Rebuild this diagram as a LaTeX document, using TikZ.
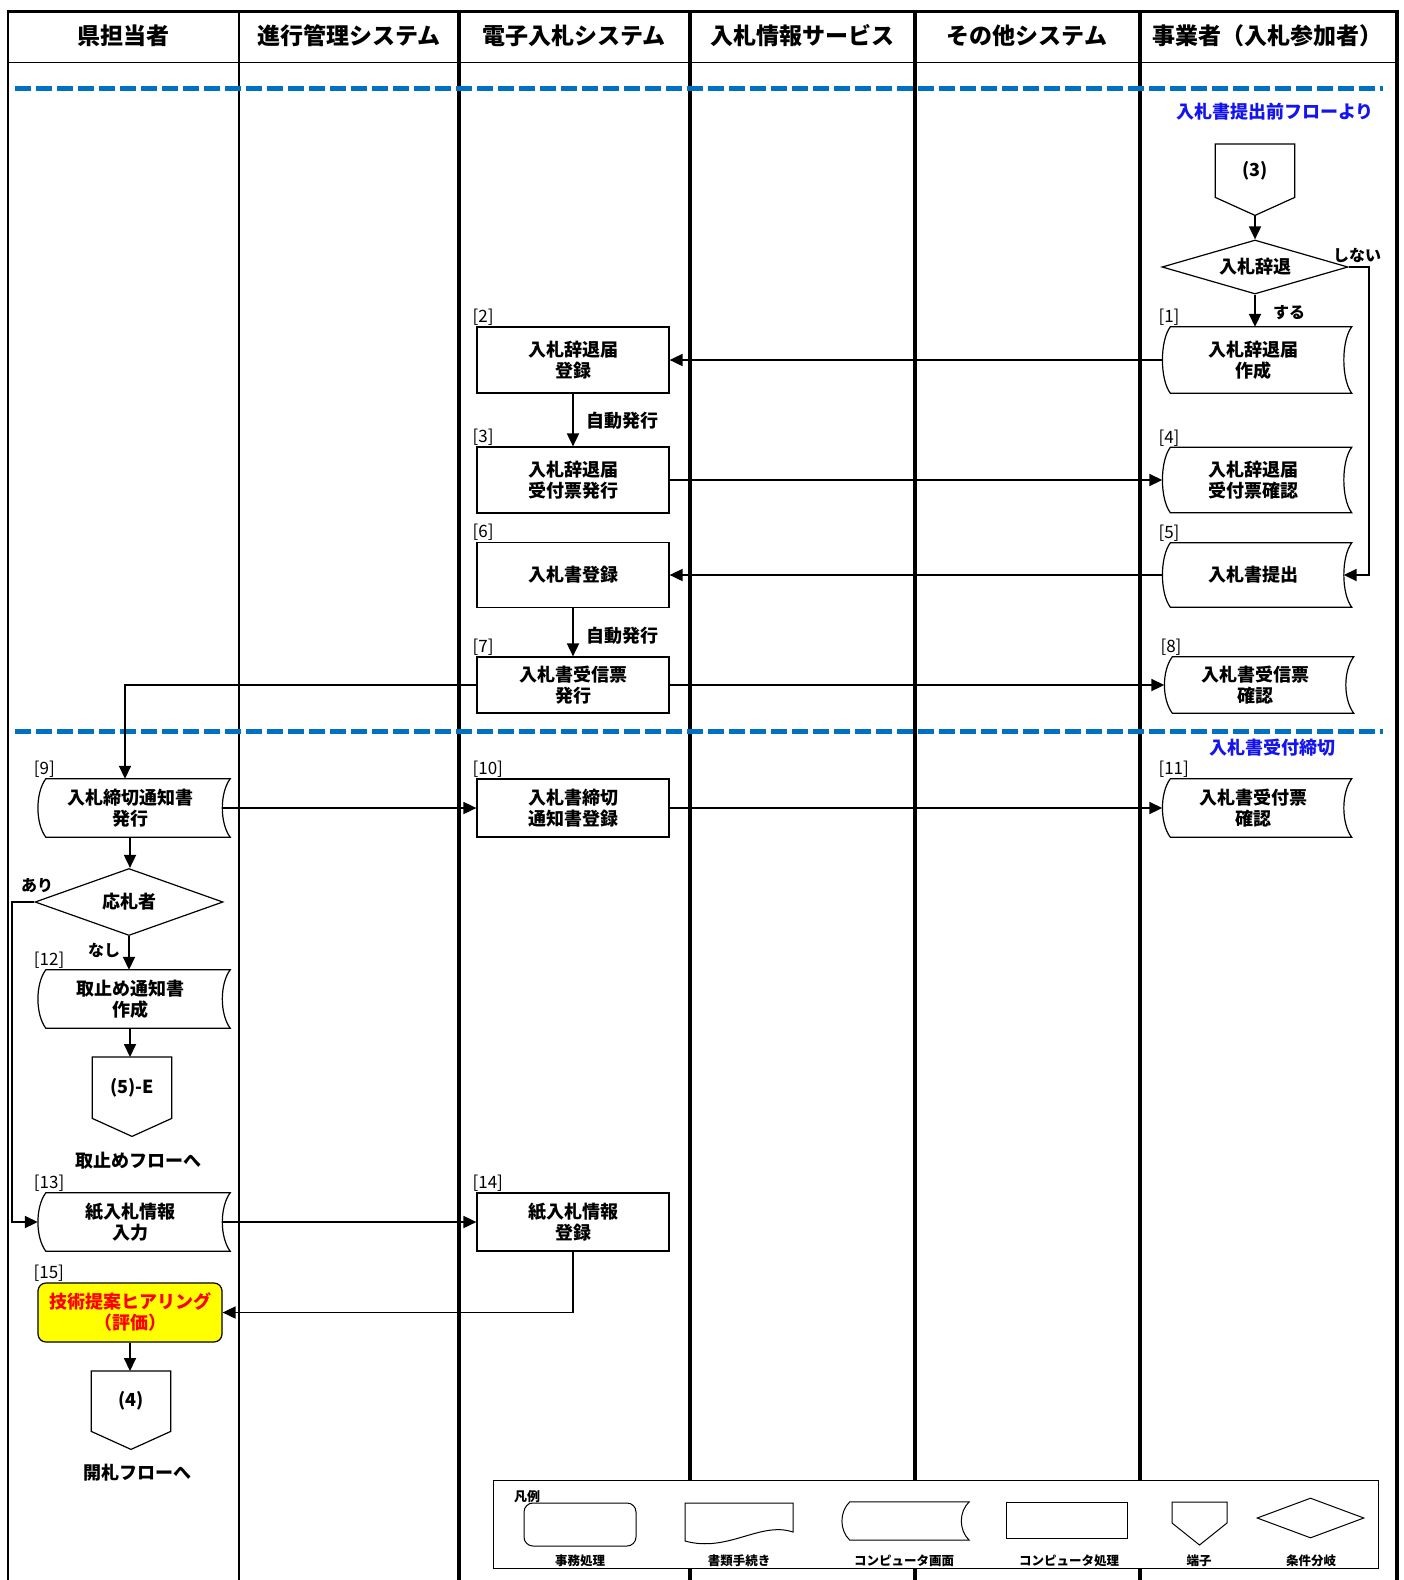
\documentclass[tikz,border=0pt]{standalone}
\usepackage{fontspec}
\setmainfont{Noto Sans CJK JP}
\usetikzlibrary{arrows.meta,positioning,shapes.geometric,calc}
\definecolor{cutblue}{HTML}{0070C0}
\definecolor{noteblue}{HTML}{1414F0}
\definecolor{hlyellow}{HTML}{FFFF00}
\definecolor{hlred}{HTML}{FF0000}
\tikzset{
  lane/.style={line width=#1},
  lane/.default=3.5pt,
  header/.style={font=\fontsize{23}{26}\selectfont\bfseries, inner sep=0pt},
  cutline/.style={draw=cutblue, line width=5pt, dash pattern=on 16pt off 5pt},
  procbox/.style={rectangle, draw, line width=1.2pt, minimum width=192pt,
    minimum height=#1, align=center, inner sep=0pt,
    font=\fontsize{18}{21}\selectfont\bfseries},
  procbox/.default=66pt,
  screenbox/.style={rectangle, minimum width=181pt, minimum height=#1,
    align=center, inner sep=0pt, font=\fontsize{18}{21}\selectfont\bfseries},
  screenbox/.default=66pt,
  termbox/.style={rectangle, minimum width=79pt, minimum height=#1,
    anchor=north, inner sep=0pt, font=\fontsize{18}{21}\selectfont\bfseries},
  termbox/.default=54pt,
  condbox/.style={diamond, draw, line width=1.2pt, aspect=3, inner sep=0pt,
    font=\fontsize{18}{21}\selectfont\bfseries},
  tag/.style={anchor=south west, inner sep=0pt, font=\fontsize{17}{17}\selectfont},
  note/.style={inner sep=0pt, font=\fontsize{18}{21}\selectfont\bfseries},
  branch/.style={inner sep=0pt, font=\fontsize{16}{18}\selectfont\bfseries},
  legtext/.style={inner sep=0pt, font=\fontsize{12.5}{14}\selectfont\bfseries},
  shapeline/.style={line width=1.2pt},
  flow/.style={-{Triangle[length=13pt,width=12pt]}, line width=1.8pt},
}
\begin{document}
\begin{tikzpicture}[x=1pt, y=-1pt]
\useasboundingbox (0,0) rectangle (1404,1580);

% swim lanes
\draw[lane=3pt] (7,11) -- (1398,11);
\draw[lane=1pt] (8,62) -- (1397,62);
\draw[lane=2pt] (8,10) -- (8,1580);
\foreach \x/\w in {239/2.5pt,459/3.5pt,690/3.5pt,915/3.5pt,1140/3.5pt,1397/3.5pt}
  \draw[lane=\w] (\x,10) -- (\x,1580);
\foreach \x/\t [count=\i] in {123/県担当者,349/進行管理システム,574/電子入札システム,
    802/入札情報サービス,1027/その他システム,1267/事業者（入札参加者）}
  \node[header] (head\i) at (\x,36) {\t};

% cut-off lines
\draw[cutline] (15,88) -- (1383,88);
\draw[cutline] (15,731) -- (1383,731);
\node[note, text=noteblue] (fromprev) at (1275,112) {入札書提出前フローより};
\node[note, text=noteblue] (deadline) at (1272,748) {入札書受付締切};

% bidder / e-bidding steps
\node[termbox=53pt] (t3) at (1255,144) {(3)};
\node[condbox, minimum width=186pt, minimum height=54pt] (d1) at (1255,267) {入札辞退};
\node[screenbox] (n1) at (1253,360) {入札辞退届\\作成};
\node[procbox] (n2) at (573,360) {入札辞退届\\登録};
\node[procbox] (n3) at (573,480) {入札辞退届\\受付票発行};
\node[screenbox=65pt] (n4) at (1253,480) {入札辞退届\\受付票確認};
\node[procbox=65pt] (n6) at (573,575) {入札書登録};
\node[screenbox=64pt] (n5) at (1253,575) {入札書提出};
\node[procbox=56pt] (n7) at (573,685) {入札書受信票\\発行};
\node[screenbox=56pt] (n8) at (1255,685) {入札書受信票\\確認};

% after deadline
\node[screenbox=58pt, minimum width=184pt] (n9) at (130,808) {入札締切通知書\\発行};
\node[procbox=58pt] (n10) at (573,808) {入札書締切\\通知書登録};
\node[screenbox=58pt] (n11) at (1253,808) {入札書受付票\\確認};
\node[condbox, minimum width=188pt, minimum height=67pt] (d2) at (129,902) {応札者};
\node[screenbox=58pt, minimum width=184pt] (n12) at (130,999) {取止め通知書\\作成};
\node[termbox=61pt] (t5) at (132,1057) {(5)-E};
\node[note] (tostop) at (138,1161) {取止めフローへ};
\node[screenbox=58pt, minimum width=184pt] (n13) at (130,1222) {紙入札情報\\入力};
\node[procbox=58pt] (n14) at (573,1222) {紙入札情報\\登録};
\node[procbox=59pt, minimum width=184pt, rounded corners=8pt, fill=hlyellow,
  text=hlred] (n15) at (130,1312.5) {技術提案ヒアリング\\（評価）};
\node[termbox=60pt] (t4) at (131,1371) {(4)};
\node[note] (toopen) at (137,1473) {開札フローへ};

% step numbers
\foreach \n/\t in {n1/1,n2/2,n3/3,n4/4,n5/5,n6/6,n7/7,n8/8,n9/9,n10/10,
    n11/11,n12/12,n13/13,n14/14,n15/15}
  \node[tag] (tag\t) at ([xshift=-4pt,yshift=1pt]\n.north west) {[\t]};

% legend
\draw[line width=1pt, fill=white] (493,1480) rectangle (1378,1568);
\node[inner sep=0pt, anchor=west, font=\fontsize{13}{13}\selectfont\bfseries]
  (legtitle) at (514,1497) {凡例};
\node[draw, line width=1pt, rounded corners=9pt, minimum width=112pt,
  minimum height=43pt] (leg1) at (580,1524.5) {};
\draw[line width=1pt] (685,1503) -- (793,1503) -- (793,1532)
  .. controls (760,1521) and (728,1553) .. (685,1541) -- cycle;
\node[screenbox=38pt, minimum width=119pt] (leg3) at (901.5,1521) {};
\node[draw, line width=1pt, minimum width=121pt, minimum height=36pt] (leg4) at (1066.5,1520) {};
\draw[line width=1pt] (1172,1502) -- (1227,1502) -- (1227,1523) -- (1199.5,1545)
  -- (1172,1523) -- cycle;
\node[diamond, draw, line width=1pt, minimum width=107pt, minimum height=40pt,
  inner sep=0pt] (leg6) at (1310.5,1518) {};
\foreach \x/\t [count=\i] in {580/事務処理,739/書類手続き,904/コンピュータ画面,
    1069/コンピュータ処理,1199/端子,1311/条件分岐}
  \node[legtext] (legl\i) at (\x,1561) {\t};

% outlines of screen and terminal shapes
\foreach \n in {n1,n4,n5,n8,n9,n11,n12,n13}
  \draw[shapeline] ([xshift=8pt]\n.north west) -- ([xshift=8pt]\n.north east)
    .. controls ([xshift=-2.5pt,yshift=-14pt]\n.north east)
       and ([xshift=-2.5pt,yshift=14pt]\n.south east) .. ([xshift=8pt]\n.south east)
    -- ([xshift=8pt]\n.south west)
    .. controls ([xshift=-2.5pt,yshift=14pt]\n.south west)
       and ([xshift=-2.5pt,yshift=-14pt]\n.north west) .. cycle;
\draw[line width=1pt] ([xshift=8pt]leg3.north west) -- ([xshift=8pt]leg3.north east)
    .. controls ([xshift=-2.5pt,yshift=-10pt]leg3.north east)
       and ([xshift=-2.5pt,yshift=10pt]leg3.south east) .. ([xshift=8pt]leg3.south east)
    -- ([xshift=8pt]leg3.south west)
    .. controls ([xshift=-2.5pt,yshift=10pt]leg3.south west)
       and ([xshift=-2.5pt,yshift=-10pt]leg3.north west) .. cycle;
\foreach \n in {t3,t5,t4}
  \draw[shapeline] (\n.north west) -- (\n.north east) -- (\n.south east)
    -- ([yshift=-18pt]\n.south) -- (\n.south west) -- cycle;

% connectors
\draw[flow] ([yshift=-18pt]t3.south) -- (d1.north);
\draw[flow] (d1.south) -- (d1.south |- n1.north);
\node[branch] (yes1) at (1289,313) {する};
\draw[flow] (d1.east) -| ([xshift=25pt]n5.east) -- (n5.east);
\node[branch] (no1) at (1357,255) {しない};
\draw[flow] (n1.west) -- (n2.east);
\draw[flow] (n2.south) -- (n3.north);
\node[note] (auto1) at (622,421) {自動発行};
\draw[flow] (n3.east) -- (n4.west);
\draw[flow] (n5.west) -- (n6.east);
\draw[flow] (n6.south) -- (n7.north);
\node[note] (auto2) at (622,636) {自動発行};
\draw[flow] (n7.east) -- (n8.west);
\draw[flow] (n7.west) -| ([xshift=-5pt]n9.north);
\draw[flow] (n9.east) -- (n10.west);
\draw[flow] (n10.east) -- (n11.west);
\draw[flow] (n9.south) -- (n9.south |- d2.north);
\draw[flow] (d2.south) -- (d2.south |- n12.north);
\node[branch] (no2) at (104,950) {なし};
\draw[flow] (d2.west) -| ([xshift=-26pt]n13.west) -- (n13.west);
\node[branch] (yes2) at (37,886) {あり};
\draw[flow] (n12.south) -- (n12.south |- t5.north);
\draw[flow] (n13.east) -- (n14.west);
\draw[flow] (n14.south) |- (n15.east);
\draw[flow] (n15.south) -- (n15.south |- t4.north);
\end{tikzpicture}
\end{document}
